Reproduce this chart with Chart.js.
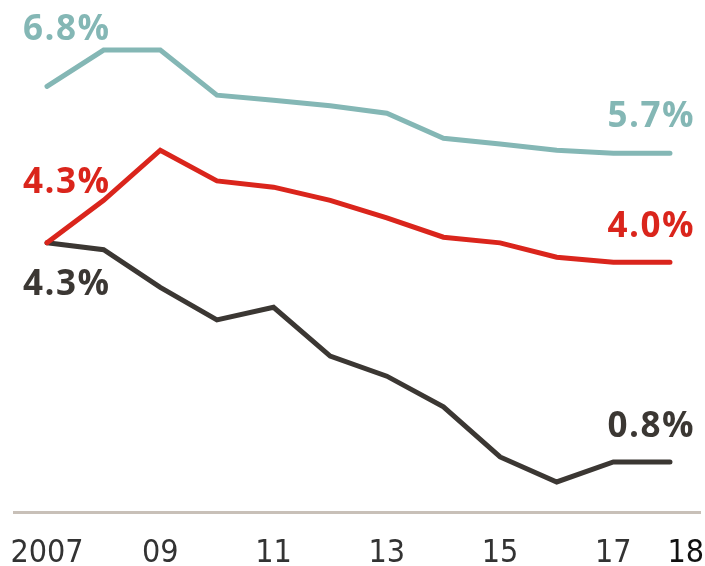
<!DOCTYPE html>
<html>
<head>
<meta charset="utf-8">
<script src="https://cdn.jsdelivr.net/npm/chart.js@4/dist/chart.umd.min.js"></script>
<style>
  html, body { margin: 0; padding: 0; background: #fff; }
  #wrap { width: 705px; height: 566px; }
</style>
</head>
<body>
<div id="wrap"><canvas id="c" width="705" height="566"></canvas></div>
<script>
// ---- data ----
const years = [2007, 2008, 2009, 2010, 2011, 2012, 2013, 2014, 2015, 2016, 2017, 2018];
const tealVals = [6.8, 7.38, 7.38, 6.66, 6.58, 6.49, 6.37, 5.97, 5.88, 5.78, 5.73, 5.73];
const redVals = [4.3, 4.98, 5.78, 5.29, 5.19, 4.98, 4.70, 4.39, 4.30, 4.07, 3.99, 3.99];
const darkVals = [4.3, 4.19, 3.59, 3.07, 3.27, 2.49, 2.17, 1.68, 0.88, 0.48, 0.80, 0.80];
const tickYears = [2007, 2009, 2011, 2013, 2015, 2017, 2018];
const tickText = ['2007', '09', '11', '13', '15', '17', '18'];
const startLabels = ['6.8%', '4.3%', '4.3%'];
const endLabels = ['5.7%', '4.0%', '0.8%'];

const TEAL = '#84b7b5', RED = '#da251c', DARK = '#3b3733';

const pts = vals => vals.map((v, i) => ({ x: years[i], y: v }));

// ---- value labels at both ends of each line ----
const endLabelPlugin = {
  id: 'endLabels',
  afterDatasetsDraw(chart) {
    const { ctx } = chart;
    const offs = [
      { s: -46, e: -26 },
      { s: -50, e: -25 },
      { s: 52, e: -25 }
    ];
    ctx.save();
    ctx.font = 'bold 35px "Open Sans", "Noto Sans", sans-serif';
    ctx.letterSpacing = '1.5px';
    ctx.textBaseline = 'alphabetic';
    chart.data.datasets.forEach((ds, i) => {
      const meta = chart.getDatasetMeta(i);
      const first = meta.data[0], last = meta.data[meta.data.length - 1];
      ctx.fillStyle = ds.borderColor;
      ctx.textAlign = 'left';
      ctx.fillText(startLabels[i], first.x - 24, first.y + offs[i].s);
      ctx.textAlign = 'right';
      ctx.fillText(endLabels[i], last.x + 25, last.y + offs[i].e);
    });
    ctx.restore();
  }
};

const line = (vals, color) => ({
  data: pts(vals),
  borderColor: color,
  borderWidth: 5,
  pointRadius: 0,
  tension: 0,
  borderCapStyle: 'round',
  borderJoinStyle: 'miter',
  fill: false
});

new Chart(document.getElementById('c'), {
  type: 'line',
  data: {
    datasets: [line(tealVals, TEAL), line(redVals, RED), line(darkVals, DARK)]
  },
  options: {
    responsive: false,
    animation: false,
    layout: { padding: { left: 14, right: 5, top: 0, bottom: 0 } },
    plugins: { legend: { display: false }, tooltip: { enabled: false } },
    scales: {
      x: {
        type: 'linear',
        min: 2006.417,
        max: 2018.53,
        grid: { display: false, drawTicks: false },
        border: { display: true, color: '#c8c0b8', width: 3 },
        afterBuildTicks: s => {
          // last label sits a little right of its year in the original
          s.ticks = tickYears.map(v => ({ value: v === 2018 ? 2018.28 : v }));
        },
        afterFit: s => {
          s.height = 54;
          s.paddingLeft = 0;
          s.paddingRight = 0;
        },
        ticks: {
          autoSkip: false,
          maxRotation: 0,
          padding: 22,
          color: ctx => ctx.index === tickYears.length - 1 ? '#111' : '#333',
          font: { family: '"Liberation Sans Narrow", "DejaVu Sans Condensed", sans-serif', size: 32 },
          callback: (v, i) => tickText[i]
        }
      },
      y: {
        display: false,
        min: 0,
        max: 8.18
      }
    }
  },
  plugins: [endLabelPlugin]
});
</script>
</body>
</html>
